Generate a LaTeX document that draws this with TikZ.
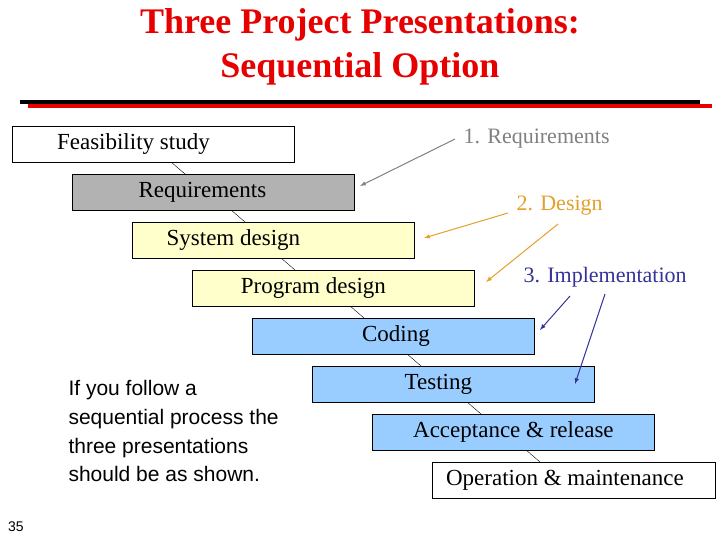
\documentclass[tikz,border=0pt]{standalone}
\usepackage{fontspec}
\setmainfont{Liberation Serif}
\newfontfamily\arialf{Liberation Sans}
\usetikzlibrary{calc}
\definecolor{bluebox}{RGB}{153,204,255}
\definecolor{yelbox}{RGB}{255,255,204}
\definecolor{graybox}{RGB}{178,178,178}
\definecolor{titlered}{RGB}{230,0,0}
\definecolor{orng}{RGB}{228,160,40}
\definecolor{impblue}{RGB}{51,51,153}
\definecolor{lgray}{RGB}{128,128,128}
\begin{document}
\begin{tikzpicture}[x=1pt,y=-1pt,
 box/.style={draw,line width=0.8pt,minimum width=282pt,minimum height=36pt,anchor=north west,inner sep=0pt,font=\fontsize{23}{25}\selectfont},
 lab/.style={anchor=west,font=\fontsize{22}{24}\selectfont},
 conn/.style={line width=0.4pt},
 arr/.style={line width=1pt,-latex}]
\useasboundingbox (0,0) rectangle (720,540);
\node[font=\fontsize{36}{44}\selectfont\bfseries,text=titlered,align=center] (title) at (360,47) {Three Project Presentations:\\Sequential Option};
\fill (20,100) rectangle (700,104);
\fill[titlered] (28,104) rectangle (712,108);
\node[box,fill=white] (f) at (12,126) {\hspace*{-40pt}Feasibility study};
\node[box,fill=graybox] (r) at (72,174) {\hspace*{-22pt}Requirements};
\node[box,fill=yelbox] (s) at (132,222) {\hspace*{-80pt}System design};
\node[box,fill=yelbox] (p) at (192,270) {\hspace*{-40pt}Program design};
\node[box,fill=bluebox] (c) at (252,318) {\hspace*{5pt}Coding};
\node[box,fill=bluebox] (t) at (312,366) {\hspace*{-30pt}Testing};
\node[box,fill=bluebox] (a) at (372,414) {Acceptance \& release};
\node[box,fill=white,minimum width=283pt] (o) at (432,462) {Operation \& maintenance\hspace*{18pt}};
\foreach \u/\v/\d in {f/r/160,r/s/160,s/p/150,p/c/159,c/t/156,t/a/156,a/o/155}
  \draw[conn] ($(\u.south west)+(\d,0)$) -- ($(\v.north west)+(\d-47,0)$);
\node[lab,text=lgray] (l1) at (460,139) {1. Requirements};
\node[lab,text=orng] (l2) at (513,206) {2. Design};
\node[lab,text=impblue] (l3) at (520,277) {3. Implementation};
\coordinate (g1) at (455,139); \coordinate (g2) at (360,186);
\draw[arr,lgray] (g1) -- (g2);
\coordinate (o1) at (508,213); \coordinate (o2) at (424,238);
\coordinate (o3) at (558,224); \coordinate (o4) at (486,282);
\draw[arr,orng] (o1) -- (o2);
\draw[arr,orng] (o3) -- (o4);
\coordinate (b1) at (570,296); \coordinate (b2) at (540,330);
\coordinate (b3) at (605,294); \coordinate (b4) at (575,384);
\draw[arr,impblue] (b1) -- (b2);
\draw[arr,impblue] (b3) -- (b4);
\node[anchor=north west,align=left,font=\arialf\fontsize{21}{28.7}\selectfont] (txt) at (65,377) {If you follow a\\sequential process the\\three presentations\\should be as shown.};
\node[font=\arialf\fontsize{14}{16}\selectfont] (num) at (16,527) {35};
\end{tikzpicture}
\end{document}
